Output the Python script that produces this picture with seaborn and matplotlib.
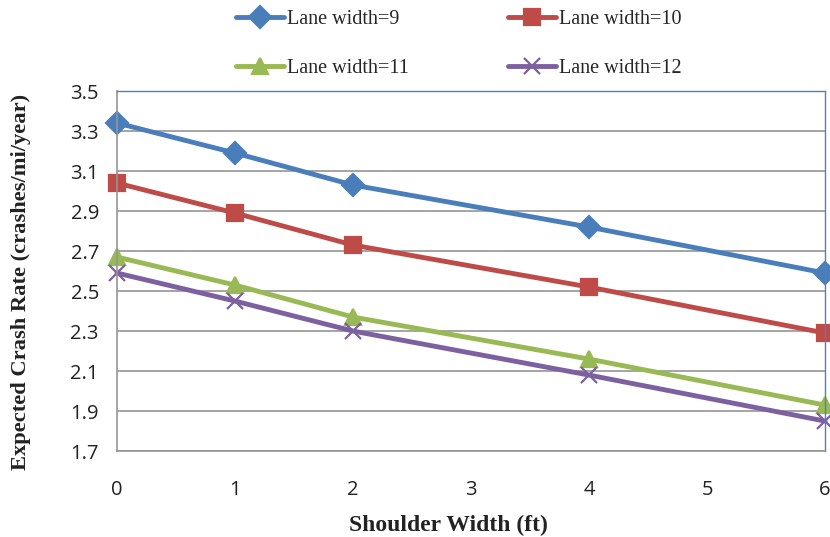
import matplotlib
matplotlib.use("Agg")
import matplotlib.pyplot as plt
from matplotlib.lines import Line2D
import seaborn as sns
import pandas as pd

shoulder = [0, 1, 2, 4, 6]
lw9 = [3.34, 3.19, 3.03, 2.82, 2.59]
lw10 = [3.04, 2.89, 2.73, 2.52, 2.29]
lw11 = [2.67, 2.53, 2.37, 2.16, 1.93]
lw12 = [2.59, 2.45, 2.30, 2.08, 1.85]
labels = ["Lane width=9", "Lane width=10", "Lane width=11", "Lane width=12"]
colors = ["#4A7EBB", "#BE4B48", "#98B954", "#7D60A0"]
markers = ["D", "s", "^", "x"]
msizes = [11, 12, 12, 12]
yticks = [1.7, 1.9, 2.1, 2.3, 2.5, 2.7, 2.9, 3.1, 3.3, 3.5]
xticks = [0, 1, 2, 3, 4, 5, 6]

sns.set_style("white")
fig = plt.figure(figsize=(8.3, 5.37), dpi=100)
ax = fig.add_axes([0.141, 0.160, 0.853, 0.6705])

for lab, vals, c, m, ms in zip(labels, [lw9, lw10, lw11, lw12], colors, markers, msizes):
    df = pd.DataFrame({"Shoulder": shoulder, "Rate": vals})
    sns.lineplot(data=df, x="Shoulder", y="Rate", color=c, marker=m,
                 markersize=ms, markeredgecolor=c, markerfacecolor=c,
                 markeredgewidth=1.6, linewidth=3.5, ax=ax, clip_on=False)

ax.set_xlim(0, 6)
ax.set_ylim(1.7, 3.5)
ax.set_xticks(xticks)
ax.set_yticks(yticks)
ax.set_yticklabels([f"{t:.1f}" for t in yticks])
ax.yaxis.grid(True, color="#959595", linewidth=1.2)
ax.set_axisbelow(True)

for s in ["left", "bottom"]:
    ax.spines[s].set_color("#959595")
    ax.spines[s].set_linewidth(1.2)
for s in ["top", "right"]:
    ax.spines[s].set_color("#4F81BD")
    ax.spines[s].set_linewidth(1.0)

ax.tick_params(axis="x", direction="out", length=6, color="#959595", width=1.2,
               pad=15, labelsize=14.5)
ax.tick_params(axis="y", length=0, pad=13, labelsize=14.5)
for t in ax.get_xticklabels() + ax.get_yticklabels():
    t.set_fontfamily("Open Sans")
    t.set_color("#222222")

ax.set_xlabel("Shoulder Width (ft)", fontfamily="Liberation Serif",
              fontweight="bold", fontsize=17, color="#222222")
ax.set_ylabel("Expected Crash Rate (crashes/mi/year)", fontfamily="Liberation Serif",
              fontweight="bold", fontsize=16.2, color="#222222")
ax.xaxis.set_label_coords(0.4675, -0.177)
ax.yaxis.set_label_coords(-0.121, 0.469)

handles = []
for m, c, ms in zip(markers, colors, msizes):
    handles.append(Line2D([0], [0], color=c, linewidth=3.5, marker=m,
                          markersize=ms, markeredgecolor=c, markerfacecolor=c,
                          markeredgewidth=1.6))
order = [0, 2, 1, 3]
fig.legend([handles[i] for i in order], [labels[i] for i in order],
           loc="center", bbox_to_anchor=(0.553, 0.918),
           ncol=2, frameon=False, handlelength=2.4, handletextpad=0.15,
           columnspacing=4.9, labelspacing=1.5,
           prop={"family": "Liberation Serif", "size": 14.5})

fig.savefig("out.png", dpi=100)
